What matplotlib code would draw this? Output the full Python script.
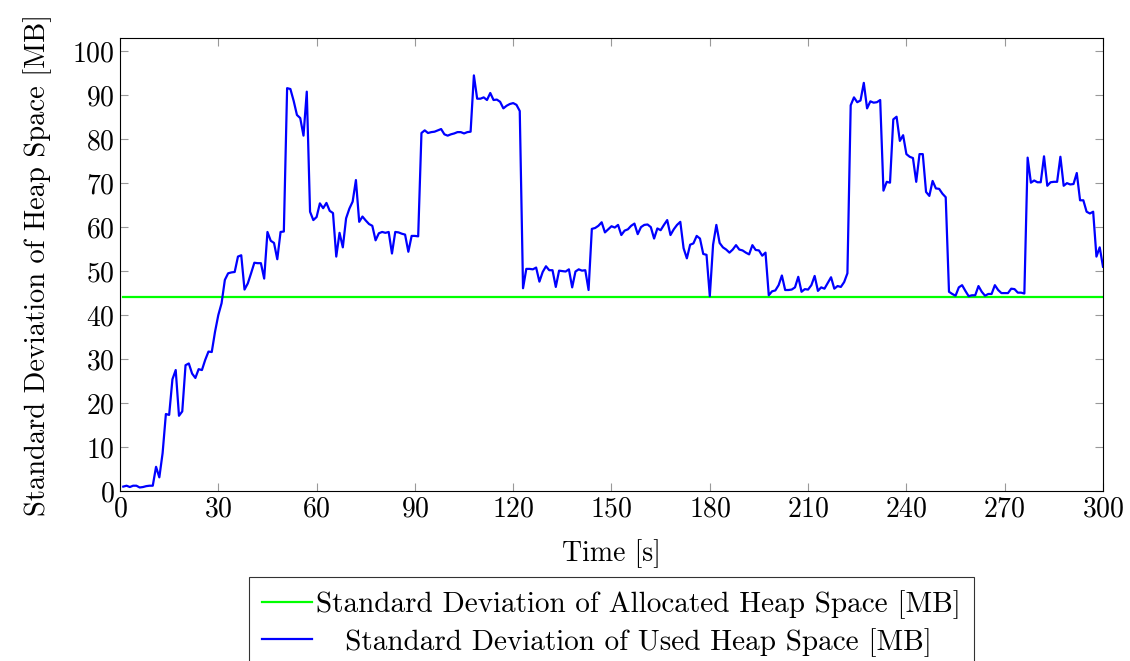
import matplotlib
matplotlib.use("Agg")
import matplotlib.pyplot as plt
import numpy as np

plt.rcParams['font.family'] = 'cmr10'
plt.rcParams['mathtext.fontset'] = 'cm'
plt.rcParams['axes.formatter.use_mathtext'] = True

# time in seconds
time_s = list(range(1, 301))

# standard deviation of used heap space [MB], one value per second
used_heap = [
    1.0, 1.2, 0.9, 1.2, 1.2, 0.8, 0.9, 1.1, 1.2, 1.2,
    5.5, 3.1, 8.6, 17.5, 17.3, 25.4, 27.5, 17.1, 18.1, 28.6,
    29.0, 26.7, 25.7, 27.7, 27.5, 29.8, 31.7, 31.6, 36.2, 40.0,
    42.7, 48.0, 49.5, 49.7, 49.8, 53.3, 53.6, 45.8, 47.2, 49.5,
    51.9, 51.8, 51.8, 48.3, 58.9, 56.9, 56.4, 52.7, 58.9, 59.0,
    91.6, 91.4, 88.7, 85.5, 84.8, 80.8, 90.8, 63.5, 61.6, 62.3,
    65.4, 64.3, 65.5, 63.7, 63.2, 53.3, 58.7, 55.4, 62.0, 64.2,
    65.8, 70.7, 61.2, 62.4, 61.5, 60.7, 60.3, 57.0, 58.6, 58.9,
    58.7, 58.9, 54.0, 58.9, 58.8, 58.5, 58.3, 54.4, 58.0, 58.0,
    57.9, 81.4, 82.0, 81.4, 81.6, 81.7, 82.0, 82.3, 81.1, 80.8,
    81.1, 81.3, 81.6, 81.6, 81.3, 81.6, 81.7, 94.5, 89.2, 89.2,
    89.5, 88.9, 90.5, 88.9, 89.0, 88.5, 87.0, 87.6, 88.0, 88.2,
    87.8, 86.4, 46.1, 50.5, 50.5, 50.4, 50.8, 47.6, 49.8, 51.1,
    50.2, 50.2, 46.4, 50.1, 50.0, 49.9, 50.4, 46.3, 49.9, 50.4,
    50.1, 50.2, 45.7, 59.6, 59.8, 60.3, 61.1, 58.8, 59.5, 60.2,
    59.9, 60.5, 58.2, 59.2, 59.5, 60.3, 60.8, 58.4, 60.0, 60.5,
    60.6, 60.0, 57.4, 59.7, 59.3, 60.5, 61.6, 58.2, 59.5, 60.5,
    61.2, 55.2, 52.9, 56.0, 56.3, 58.0, 57.4, 53.9, 53.7, 44.3,
    56.0, 60.5, 56.4, 55.4, 54.9, 54.2, 54.9, 55.9, 54.9, 54.7,
    54.2, 53.8, 55.9, 54.8, 54.7, 53.5, 54.2, 44.5, 45.4, 45.6,
    46.8, 49.0, 45.7, 45.7, 45.8, 46.3, 48.7, 45.3, 45.9, 45.8,
    46.8, 48.9, 45.5, 46.3, 46.0, 47.3, 48.6, 46.0, 46.6, 46.4,
    47.5, 49.5, 87.7, 89.5, 88.4, 88.8, 92.8, 87.0, 88.6, 88.3,
    88.4, 88.9, 68.3, 70.3, 70.1, 84.5, 85.1, 79.6, 80.9, 76.6,
    76.0, 75.7, 70.3, 76.6, 76.6, 68.0, 67.1, 70.5, 68.8, 68.7,
    67.6, 66.8, 45.3, 44.8, 44.4, 46.3, 46.8, 45.5, 44.3, 44.5,
    44.5, 46.6, 45.3, 44.4, 44.8, 44.8, 46.8, 45.7, 45.0, 45.0,
    45.0, 46.0, 45.9, 45.1, 45.1, 44.9, 75.8, 70.1, 70.6, 70.2,
    70.2, 76.1, 69.4, 70.2, 70.3, 70.3, 76.0, 69.4, 70.0, 69.7,
    69.8, 72.3, 66.1, 66.1, 63.5, 63.1, 63.5, 53.3, 55.4, 51.0,
]

# standard deviation of allocated heap space [MB] (constant)
alloc_time = [1, 300]
alloc_heap = [44.1, 44.1]

x_ticks = list(range(0, 301, 30))
y_ticks = list(range(0, 101, 10))

fig = plt.figure(figsize=(11.3, 6.61), dpi=100)
ax = fig.add_axes([0.1062, 0.2572, 0.8699, 0.6853])

ax.plot(alloc_time, alloc_heap, color=(0, 1, 0), lw=1.6,
        label='Standard Deviation of Allocated Heap Space [MB]')
ax.plot(time_s, used_heap, color=(0, 0, 1), lw=1.6,
        label='   Standard Deviation of Used Heap Space [MB]')

ax.set_xlim(0, 300)
ax.set_ylim(0, 103)
ax.set_xticks(x_ticks)
ax.set_yticks(y_ticks)
ax.tick_params(direction='in', length=6, width=0.8, color='#999999',
               top=True, right=True, labelsize=20, pad=4)
for s in ax.spines.values():
    s.set_linewidth(0.8)

ax.set_xlabel('Time [s]', fontsize=20, labelpad=12)
ax.set_ylabel('Standard Deviation of Heap Space [MB]', fontsize=20.5, labelpad=14)

leg = ax.legend(loc='upper center', bbox_to_anchor=(0.5, -0.19), fontsize=21,
                frameon=True, fancybox=False, edgecolor='black',
                handlelength=1.7, handletextpad=0.15, borderpad=0.45,
                labelspacing=0.3, borderaxespad=0)
leg.get_frame().set_linewidth(0.8)

fig.savefig('out.png', dpi=100)
